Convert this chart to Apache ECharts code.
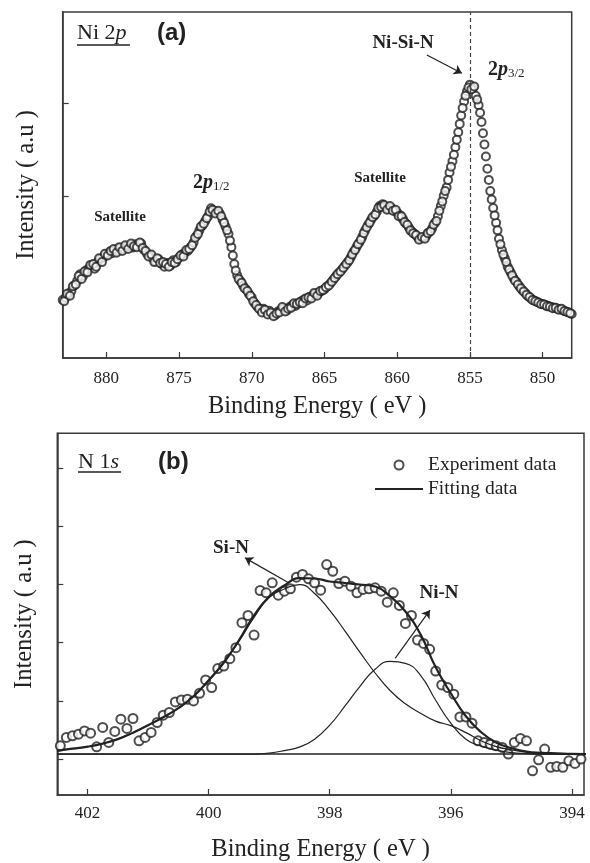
<!DOCTYPE html>
<html lang="en">
<head>
<meta charset="UTF-8">
<title>XPS Ni 2p / N 1s</title>
<script src="https://cdn.jsdelivr.net/npm/echarts@6/dist/echarts.min.js"></script>
<style>
    body { margin: 0; background: #fff; }
    #chart { width: 590px; height: 863px; }
</style>
</head>
<body>
<div id="chart"></div>
<script>
// ---- panel (a): Ni 2p, sampled every 0.2 eV starting at 883.0 eV
var niStart = 883.0, niStep = 0.2;
var niCounts = [
    894, 920, 955, 990, 1050, 1100, 1170, 1150, 1210, 1235,
    1260, 1230, 1300, 1335, 1350, 1380, 1400, 1395, 1430, 1420,
    1450, 1440, 1465, 1470, 1455, 1490, 1470, 1500, 1430, 1390,
    1370, 1340, 1310, 1330, 1280, 1250, 1290, 1260, 1320, 1300,
    1350, 1380, 1400, 1420, 1460, 1510, 1580, 1640, 1690, 1740,
    1790, 1876, 1850, 1840, 1820, 1750, 1680, 1600, 1460, 1280,
    1160, 1100, 1050, 1010, 960, 920, 860, 820, 790, 800,
    770, 780, 750, 730, 770, 790, 800, 780, 820, 840,
    830, 860, 880, 900, 890, 930, 945, 960, 970, 990,
    1010, 1040, 1070, 1110, 1150, 1185, 1220, 1260, 1300, 1350,
    1410, 1460, 1510, 1570, 1640, 1700, 1750, 1790, 1840, 1900,
    1920, 1890, 1870, 1880, 1850, 1830, 1800, 1760, 1710, 1670,
    1630, 1600, 1570, 1550, 1560, 1580, 1620, 1660, 1720, 1790,
    1900, 2010, 2100, 2260, 2380, 2530, 2690, 2870, 3020, 3130,
    3200, 3160, 3080, 2980, 2800, 2560, 2300, 2060, 1880, 1720,
    1550, 1430, 1340, 1250, 1190, 1130, 1090, 1040, 1000, 970,
    935, 910, 890, 875, 860, 850, 840, 830, 820, 810,
    800, 795, 785, 770, 760, 744
];
// second pass, sampled every 0.2 eV starting at 882.9 eV
var niStart2 = 882.9;
var niCounts2 = [
    880, 960, 940, 1040, 1060, 1150, 1120, 1200, 1190, 1270,
    1280, 1250, 1340, 1300, 1390, 1370, 1420, 1440, 1400, 1460,
    1420, 1480, 1440, 1500, 1470, 1460, 1510, 1450, 1420, 1360,
    1380, 1300, 1340, 1290, 1300, 1280, 1250, 1300, 1290, 1330,
    1370, 1360, 1430, 1440, 1480, 1560, 1600, 1680, 1710, 1770,
    1840, 1860, 1820, 1850, 1790, 1720, 1640, 1530, 1370, 1210,
    1120, 1080, 1020, 990, 940, 880, 840, 800, 760, 790,
    740, 760, 720, 750, 760, 820, 770, 800, 810, 860,
    850, 870, 860, 910, 920, 910, 970, 940, 990, 1000,
    1030, 1050, 1090, 1130, 1170, 1200, 1240, 1280, 1320, 1380,
    1430, 1490, 1540, 1610, 1670, 1720, 1780, 1810, 1880, 1890,
    1910, 1860, 1900, 1850, 1860, 1790, 1790, 1730, 1700, 1640,
    1610, 1590, 1540, 1570, 1550, 1610, 1630, 1700, 1740, 1850,
    1950, 2060, 2180, 2320, 2450, 2610, 2780, 2950, 3080, 3170,
    3150, 3180, 3040, 2900, 2680, 2430, 2180, 1970, 1800, 1640,
    1490, 1380, 1300, 1220, 1160, 1100, 1060, 1020, 985, 950,
    925, 895, 880, 868, 848, 845, 826, 822, 805, 812,
    790, 800, 775, 765, 752
];
var niTicks = [850, 855, 860, 865, 870, 875, 880];
var niYTicks = [2000, 3000];

// ---- panel (b): N 1s, sampled every 0.1 eV starting at 402.45 eV
var nStart = 402.45, nStep = 0.1;
var nCounts = [
    228, 372, 400, 429, 485, 446, 211, 544, 286, 475,
    686, 527, 698, 314, 372, 458, 629, 755, 801, 983,
    1017, 1029, 1000, 1132, 1360, 1230, 1556, 1600, 1727, 1916,
    2344, 2470, 2132, 2898, 2859, 3030, 2818, 2886, 2928, 3126,
    3173, 3099, 3030, 2903, 3344, 3229, 3018, 3058, 2972, 2859,
    2916, 2928, 2945, 2886, 2698, 2859, 2641, 2332, 2470, 2046,
    1989, 1887, 1514, 1274, 1230, 1115, 725, 725, 617, 314,
    286, 257, 228, 201, 86, 286, 355, 314, -201, -12,
    172, -142, -125, -142, -29, -74, 0
];
var fitEnergy = [402.5, 402.25, 402, 401.75, 401.5, 401.25, 401, 400.75, 400.5, 400.25,
    400, 399.75, 399.5, 399.25, 399, 398.75, 398.5, 398.25, 398, 397.75,
    397.5, 397.25, 397, 396.75, 396.5, 396.25, 396, 395.75, 395.5, 395.25,
    395, 394.75, 394.5, 394.25, 394, 393.75];
var fitTotal = [142, 180, 214, 266, 343, 454, 583, 720, 875, 1080,
    1355, 1664, 2041, 2470, 2795, 2984, 3110, 3104, 3053, 3027,
    3001, 2967, 2795, 2538, 2144, 1578, 1132, 737, 463, 283,
    189, 129, 108, 98, 89, 86];
var fitSiN = [142, 180, 214, 266, 343, 454, 583, 720, 875, 1080,
    1346, 1646, 2024, 2435, 2778, 2924, 3000, 2847, 2556, 2204,
    1835, 1480, 1175, 950, 789, 652, 575, 455, 315, 215,
    160, 120, 103, 93, 86, 86];
var fitNiN = [86, 86, 86, 86, 86, 86, 86, 86, 86, 86,
    86, 86, 86, 86, 103, 146, 206, 343, 583, 909,
    1252, 1544, 1681, 1646, 1441, 1012, 617, 343, 223, 154,
    111, 94, 86, 86, 86, 86];
var fitBase = 86;
var nTicks = [394, 396, 398, 400, 402];
var nYTicks = [0, 1000, 2000, 3000, 4000, 5000];

var serif = 'Liberation Serif, Times New Roman, serif';
var ink = '#222';
var frame = '#3a3a3a';

function pairs(start, step, vals) {
    return vals.map(function (v, i) { return [+(start - i * step).toFixed(2), v]; });
}
function zipE(es, vals) {
    return vals.map(function (v, i) { return [es[i], v]; });
}

function xAxisOf(grid, min, max, ticks, gap, margin) {
    return {
        gridIndex: grid, type: 'value', min: min, max: max, inverse: true,
        name: 'Binding Energy ( eV )', nameLocation: 'middle', nameGap: gap,
        nameTextStyle: { fontFamily: serif, fontSize: 24.5, color: ink },
        axisLine: { onZero: false, lineStyle: { color: frame, width: 1.5 } },
        axisTick: { inside: true, length: 6, customValues: ticks, lineStyle: { color: frame, width: 1.2 } },
        axisLabel: { customValues: ticks, margin: margin, fontFamily: serif, fontSize: 17, color: ink },
        splitLine: { show: false }
    };
}
function yAxisOf(grid, min, max, ticks, gap) {
    return {
        gridIndex: grid, type: 'value', min: min, max: max,
        name: 'Intensity ( a.u )', nameLocation: 'middle', nameGap: gap,
        nameTextStyle: { fontFamily: serif, fontSize: 24.5, color: ink },
        axisLine: { onZero: false, lineStyle: { color: frame, width: 1.5 } },
        axisTick: { inside: true, length: 6, customValues: ticks, lineStyle: { color: frame, width: 1.2 } },
        axisLabel: { show: false },
        splitLine: { show: false }
    };
}

function txt(x, y, text, rich, align) {
    return { type: 'text', x: x, y: y, z: 100,
        style: { text: text, rich: rich, align: align || 'left', verticalAlign: 'middle', fill: ink } };
}
function rule(x1, x2, y) {
    return { type: 'line', z: 100, shape: { x1: x1, y1: y, x2: x2, y2: y }, style: { stroke: ink, lineWidth: 1.3 } };
}
var richTitle = {
    r: { fontFamily: serif, fontSize: 22, fill: ink },
    i: { fontFamily: serif, fontSize: 22, fontStyle: 'italic', fill: ink }
};
var richTag = { t: { fontFamily: 'Liberation Sans, Arial, sans-serif', fontWeight: 'bold', fontSize: 24, fill: ink } };
var richSat = { t: { fontFamily: serif, fontWeight: 'bold', fontSize: 15, fill: ink } };
var richBond = { t: { fontFamily: serif, fontWeight: 'bold', fontSize: 19, fill: ink } };
var richOrb = {
    n: { fontFamily: serif, fontWeight: 'bold', fontSize: 20, fill: ink },
    p: { fontFamily: serif, fontWeight: 'bold', fontStyle: 'italic', fontSize: 20, fill: ink },
    s: { fontFamily: serif, fontSize: 13, fill: ink, verticalAlign: 'bottom' }
};

var arrowLine = { silent: true, symbol: ['none', 'arrow'], symbolSize: 8,
    label: { show: false }, lineStyle: { color: ink, width: 1.2, type: 'solid' } };

var chart = echarts.init(document.getElementById('chart'));
chart.setOption({
    animation: false,
    backgroundColor: '#fff',
    grid: [
        { left: 62.7, top: 12, width: 509, height: 346, show: true, borderColor: frame, borderWidth: 1.5 },
        { left: 57.3, top: 433.3, width: 526.7, height: 362.7, show: true, borderColor: frame, borderWidth: 1.5 }
    ],
    xAxis: [
        xAxisOf(0, 848, 883, niTicks, 36, 12),
        xAxisOf(1, 393.8, 402.5, nTicks, 42, 10)
    ],
    yAxis: [
        yAxisOf(0, 273, 3978, niYTicks, 24),
        yAxisOf(1, -617, 5600, nYTicks, 20)
    ],
    legend: {
        data: [
            { name: 'Experiment data' },
            { name: 'Fitting data', icon: 'path://M0,0 L48,0 L48,2.2 L0,2.2 Z' }
        ],
        orient: 'vertical', left: 370, top: 450,
        itemWidth: 48, itemHeight: 9, itemGap: 4, selectedMode: false,
        textStyle: { fontFamily: serif, fontSize: 19.5, color: ink }
    },
    graphic: [
        txt(77, 33, '{r|Ni 2}{i|p}', richTitle),
        rule(77, 130, 45),
        txt(157, 33, '{t|(a)}', richTag),
        txt(120, 217, '{t|Satellite}', richSat, 'center'),
        txt(193, 183, '{n|2}{p|p}{s|1/2}', richOrb),
        txt(380, 178, '{t|Satellite}', richSat, 'center'),
        txt(403, 43, '{t|Ni-Si-N}', richBond, 'center'),
        txt(488, 70, '{n|2}{p|p}{s|3/2}', richOrb),
        txt(78, 462, '{r|N 1}{i|s}', richTitle),
        rule(78, 121, 472),
        txt(158, 462, '{t|(b)}', richTag),
        txt(231, 548, '{t|Si-N}', richBond, 'center'),
        txt(439, 593, '{t|Ni-N}', richBond, 'center')
    ],
    series: [
        {
            type: 'scatter', name: 'Ni 2p', xAxisIndex: 0, yAxisIndex: 0, clip: false,
            symbol: 'emptyCircle', symbolSize: 8,
            itemStyle: { color: ink, borderWidth: 1 },
            data: pairs(niStart, niStep, niCounts).concat(pairs(niStart2, niStep, niCounts2)),
            markLine: {
                silent: true, symbol: 'none', label: { show: false },
                lineStyle: { color: '#444', width: 1.2, type: [4, 3] },
                data: [{ xAxis: 855 }]
            }
        },
        {
            type: 'line', name: 'arrowA', xAxisIndex: 0, yAxisIndex: 0, data: [],
            markLine: Object.assign({}, arrowLine, {
                data: [[{ coord: [857.96, 3518] }, { coord: [855.55, 3322] }]]
            })
        },
        {
            type: 'line', name: 'Baseline', xAxisIndex: 1, yAxisIndex: 1, symbol: 'none',
            lineStyle: { color: ink, width: 1.5 },
            data: [[402.5, fitBase], [393.8, fitBase]]
        },
        {
            type: 'line', name: 'Si-N', xAxisIndex: 1, yAxisIndex: 1, symbol: 'none', smooth: true,
            lineStyle: { color: ink, width: 1.2 },
            data: zipE(fitEnergy, fitSiN),
            markLine: Object.assign({}, arrowLine, {
                data: [[{ coord: [398.68, 3030] }, { coord: [399.40, 3459] }]]
            })
        },
        {
            type: 'line', name: 'Ni-N', xAxisIndex: 1, yAxisIndex: 1, symbol: 'none', smooth: true,
            lineStyle: { color: ink, width: 1.2 },
            data: zipE(fitEnergy, fitNiN),
            markLine: Object.assign({}, arrowLine, {
                data: [[{ coord: [396.92, 1732] }, { coord: [396.345, 2560] }]]
            })
        },
        {
            type: 'line', name: 'Fitting data', xAxisIndex: 1, yAxisIndex: 1, symbol: 'none', smooth: true,
            lineStyle: { color: ink, width: 2.2 }, itemStyle: { color: ink },
            data: zipE(fitEnergy, fitTotal)
        },
        {
            type: 'scatter', name: 'Experiment data', xAxisIndex: 1, yAxisIndex: 1, clip: false,
            symbol: 'emptyCircle', symbolSize: 9,
            itemStyle: { color: ink, borderWidth: 1 },
            data: pairs(nStart, nStep, nCounts)
        }
    ]
});
</script>
</body>
</html>
